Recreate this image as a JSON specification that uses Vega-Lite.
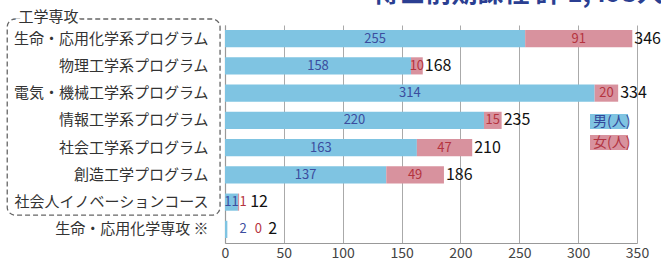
{
  "$schema": "https://vega.github.io/schema/vega-lite/v6.json",
  "width": 412,
  "height": 218,
  "autosize": {"type": "none"},
  "padding": {"left": 225, "top": 25, "right": 24, "bottom": 17},
  "title": {
    "text": "博士前期課程 計 1,493人",
    "anchor": "end",
    "frame": "group",
    "orient": "top",
    "fontSize": 26,
    "fontWeight": "bold",
    "color": "#2b3f92",
    "font": "Noto Sans CJK JP",
    "offset": 3,
    "dx": 26
  },
  "config": {
    "view": {"stroke": null},
    "font": "Noto Sans CJK JP",
    "text": {"font": "Noto Sans CJK JP"}
  },
  "data": {
    "values": [
      {"program": "生命・応用化学系プログラム", "男": 255, "女": 91, "total": 346},
      {"program": "物理工学系プログラム", "男": 158, "女": 10, "total": 168},
      {"program": "電気・機械工学系プログラム", "男": 314, "女": 20, "total": 334},
      {"program": "情報工学系プログラム", "男": 220, "女": 15, "total": 235},
      {"program": "社会工学系プログラム", "男": 163, "女": 47, "total": 210},
      {"program": "創造工学プログラム", "男": 137, "女": 49, "total": 186},
      {"program": "社会人イノベーションコース", "男": 11, "女": 1, "total": 12},
      {"program": "生命・応用化学専攻", "男": 2, "女": 0, "total": 2}
    ]
  },
  "layer": [
    {
      "transform": [
        {"fold": ["男", "女"], "as": ["sex", "count"]},
        {"stack": "count", "groupby": ["program"], "sort": [{"field": "sex", "order": "descending"}], "as": ["x0", "x1"]},
        {"calculate": "(datum.x0 + datum.x1) / 2", "as": "mid"}
      ],
      "encoding": {
        "y": {
          "field": "program",
          "type": "nominal",
          "sort": ["生命・応用化学系プログラム", "物理工学系プログラム", "電気・機械工学系プログラム", "情報工学系プログラム", "社会工学系プログラム", "創造工学プログラム", "社会人イノベーションコース", "生命・応用化学専攻"],
          "scale": {"paddingInner": 0.37, "paddingOuter": 0.185},
          "axis": {
            "title": null,
            "ticks": false,
            "domainColor": "#999999",
            "domainWidth": 1.2,
            "labelFontSize": 15,
            "labelColor": "#333333",
            "labelPadding": 17,
            "labelLimit": 300,
            "labelFont": "Noto Sans CJK JP",
            "labelExpr": "datum.value == '生命・応用化学専攻' ? datum.value + ' ※' : datum.value",
            "encode": {"labels": {"update": {"dx": {"signal": "datum.value == '生命・応用化学専攻' ? 13 : 0"}}}}
          }
        }
      },
      "layer": [
        {
          "mark": {"type": "bar"},
          "encoding": {
            "x": {
              "field": "x0",
              "type": "quantitative",
              "scale": {"domain": [0, 350], "nice": false},
              "axis": {
                "title": null,
                "values": [0, 50, 100, 150, 200, 250, 300, 350],
                "grid": true,
                "gridColor": "#aaaaaa",
                "ticks": false,
                "domainColor": "#999999",
                "labelFontSize": 14,
                "labelColor": "#444444",
                "labelPadding": 3,
                "labelFlush": false,
                "labelFont": "Noto Sans CJK JP"
              }
            },
            "x2": {"field": "x1"},
            "color": {
              "field": "sex",
              "type": "nominal",
              "scale": {"domain": ["男", "女"], "range": ["#7fc4e2", "#d8929e"]},
              "legend": {
                "orient": "none",
                "legendX": 374.5,
                "legendY": 87,
                "title": null,
                "symbolType": "M-2,-0.79H2V0.79H-2Z",
                "symbolSize": 361,
                "symbolStrokeWidth": 0,
                "symbolOpacity": 1,
                "labelOffset": -25.5,
                "labelFontSize": 14,
                "labelFont": "Noto Sans CJK JP",
                "rowPadding": 3,
                "labelExpr": "datum.value + '(人)'",
                "encode": {"labels": {"update": {"fill": {"signal": "datum.value == '男' ? '#33489a' : '#b23442'"}}}}
              }
            }
          }
        },
        {
          "transform": [{"filter": "datum.sex == '男'"}],
          "mark": {"type": "text", "fontSize": 13, "color": "#3b4d9e", "dx": {"expr": "datum['男'] < 5 ? 17 : 0"}},
          "encoding": {
            "x": {"field": "mid", "type": "quantitative"},
            "text": {"field": "count", "type": "quantitative"}
          }
        },
        {
          "transform": [{"filter": "datum.sex == '女'"}],
          "mark": {"type": "text", "fontSize": 13, "color": "#b5343f", "dx": {"expr": "datum['女'] == 0 ? 31 : (datum['女'] < 5 ? 4.5 : 0)"}},
          "encoding": {
            "x": {"field": "mid", "type": "quantitative"},
            "text": {"field": "count", "type": "quantitative"}
          }
        },
        {
          "transform": [{"filter": "datum.sex == '男'"}],
          "mark": {"type": "text", "fontSize": 16, "align": "left", "color": "#111111", "dx": {"expr": "datum['女'] == 0 ? 41 : (datum['女'] < 5 ? 11 : 2)"}},
          "encoding": {
            "x": {"field": "total", "type": "quantitative"},
            "text": {"field": "total", "type": "quantitative"}
          }
        }
      ]
    },
    {
      "data": {"values": [{"label": "工学専攻"}]},
      "mark": {"type": "rect", "fill": "transparent", "stroke": "#666666", "strokeWidth": 1.3, "strokeDash": [5, 3], "cornerRadius": 8},
      "encoding": {
        "x": {"datum": -185},
        "x2": {"datum": -4.2},
        "y": {"datum": -0.22, "type": "quantitative", "scale": {"domain": [0, 8], "reverse": true, "nice": false, "zero": false}, "axis": null},
        "y2": {"datum": 6.98}
      }
    },
    {
      "data": {"values": [{"label": "工学専攻"}]},
      "mark": {"type": "text", "fontSize": 15, "fill": "white", "stroke": "white", "strokeWidth": 7},
      "encoding": {
        "x": {"datum": -150},
        "y": {"datum": -0.31, "type": "quantitative", "scale": {"domain": [0, 8], "reverse": true, "nice": false, "zero": false}, "axis": null},
        "text": {"field": "label"}
      }
    },
    {
      "data": {"values": [{"label": "工学専攻"}]},
      "mark": {"type": "text", "fontSize": 15, "color": "#333333"},
      "encoding": {
        "x": {"datum": -150},
        "y": {"datum": -0.31, "type": "quantitative", "scale": {"domain": [0, 8], "reverse": true, "nice": false, "zero": false}, "axis": null},
        "text": {"field": "label"}
      }
    }
  ],
  "resolve": {"scale": {"y": "independent"}}
}
